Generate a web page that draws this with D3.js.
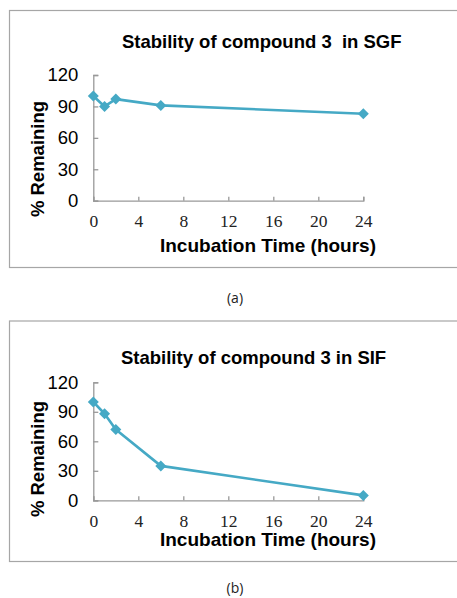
<!DOCTYPE html>
<html>
<head>
<meta charset="utf-8">
<script src="https://cdn.jsdelivr.net/npm/d3@7"></script>
<style>
  body { margin: 0; background: #fff; }
  svg { display: block; }
</style>
</head>
<body>
<script>
// data
var hours = [0, 1, 2, 6, 24];
var sgfRemaining = [100, 90, 97, 91, 83];
var sifRemaining = [100, 88, 72, 35, 5];
var xTicks = [0, 4, 8, 12, 16, 20, 24];
var yTicks = [0, 30, 60, 90, 120];

var width = 457, height = 598;
var lineColor = "#45a9c5";
var axisColor = "#999";

var svg = d3.select("body").append("svg")
    .attr("width", width)
    .attr("height", height);

// one panel: frame, title, axes, line + diamonds
function drawPanel(p) {
    var g = svg.append("g");

    // outer frame (right edge runs off the page)
    g.append("rect")
        .attr("x", 9.5).attr("y", p.frameTop + 0.5)
        .attr("width", 470).attr("height", p.frameH)
        .attr("fill", "none")
        .attr("stroke", "#a6a6a6")
        .attr("stroke-width", 1.2);

    var x = d3.scaleLinear().domain([0, 24]).range([93.3, 363.3]);
    var y = d3.scaleLinear().domain([0, 120]).range([p.axisY, p.topY]);

    // title
    g.append("text")
        .attr("x", p.titleX).attr("y", p.titleY)
        .attr("font-family", "Liberation Sans, Arial, sans-serif")
        .attr("font-weight", "bold")
        .attr("font-size", 18.5)
        .attr("xml:space", "preserve")
        .attr("fill", "#000")
        .text(p.title);

    // y axis, ticks pointing in
    var yAxis = g.append("g")
        .attr("transform", "translate(" + x(0) + ",0)")
        .call(d3.axisLeft(y).tickValues(yTicks).tickSize(-5).tickPadding(15));
    yAxis.select(".domain").attr("stroke", axisColor).attr("stroke-width", 1.3);
    yAxis.selectAll(".tick line").attr("stroke", axisColor).attr("stroke-width", 1.3);
    yAxis.selectAll("text")
        .attr("font-family", "Liberation Sans, Arial, sans-serif")
        .attr("font-size", 18.5)
        .attr("fill", "#000");

    // x axis, ticks pointing in, serif numbers
    var xAxis = g.append("g")
        .attr("transform", "translate(0," + p.axisY + ")")
        .call(d3.axisBottom(x).tickValues(xTicks).tickSize(-4).tickPadding(14));
    xAxis.select(".domain").attr("stroke", axisColor).attr("stroke-width", 1.3);
    xAxis.selectAll(".tick line").attr("stroke", axisColor).attr("stroke-width", 1.3);
    xAxis.selectAll("text")
        .attr("font-family", "Liberation Serif, Times New Roman, serif")
        .attr("font-size", 17.5)
        .attr("fill", "#222");

    // axis titles
    g.append("text")
        .attr("x", 268).attr("y", p.xTitleY)
        .attr("text-anchor", "middle")
        .attr("font-family", "Liberation Sans, Arial, sans-serif")
        .attr("font-weight", "bold")
        .attr("font-size", 19)
        .text("Incubation Time (hours)");

    g.append("text")
        .attr("transform", "translate(44," + p.yTitleMid + ") rotate(-90)")
        .attr("text-anchor", "middle")
        .attr("font-family", "Liberation Sans, Arial, sans-serif")
        .attr("font-weight", "bold")
        .attr("font-size", 18.5)
        .text("% Remaining");

    var pts = hours.map(function(h, i) { return [h, p.values[i]]; });

    var line = d3.line()
        .x(function(d) { return x(d[0]); })
        .y(function(d) { return y(d[1]); });

    g.append("path")
        .datum(pts)
        .attr("d", line)
        .attr("fill", "none")
        .attr("stroke", lineColor)
        .attr("stroke-width", 2.6)
        .attr("stroke-linejoin", "round");

    g.selectAll(".pt")
        .data(pts)
        .enter()
        .append("path")
        .attr("class", "pt")
        .attr("d", "M0,-5.5L5.5,0L0,5.5L-5.5,0Z")
        .attr("transform", function(d) { return "translate(" + x(d[0]) + "," + y(d[1]) + ")"; })
        .attr("fill", lineColor);

    // caption under the frame
    svg.append("text")
        .attr("x", 235).attr("y", p.capY)
        .attr("text-anchor", "middle")
        .attr("font-family", "Open Sans, Noto Sans, sans-serif")
        .attr("font-size", 14)
        .attr("fill", "#222")
        .text(p.caption);
}

drawPanel({
    frameTop: 10, frameH: 257,
    axisY: 200.7, topY: 75,
    title: "Stability of compound 3  in SGF", titleX: 122, titleY: 47.5,
    xTitleY: 252, yTitleMid: 159,
    values: sgfRemaining,
    caption: "(a)", capY: 302.5
});

drawPanel({
    frameTop: 320.5, frameH: 240.5,
    axisY: 500.3, topY: 382.3,
    title: "Stability of compound 3 in SIF", titleX: 121, titleY: 363.5,
    xTitleY: 546, yTitleMid: 459,
    values: sifRemaining,
    caption: "(b)", capY: 592.5
});
</script>
</body>
</html>
